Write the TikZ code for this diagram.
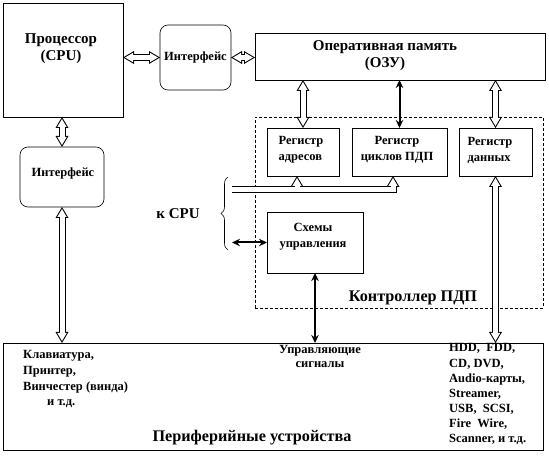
\documentclass[tikz,border=0pt]{standalone}
\usepackage{fontspec}
\setmainfont{Liberation Serif}
\usetikzlibrary{arrows.meta,decorations.pathreplacing,calc}
\tikzset{
  box/.style={draw=black, line width=0.6pt, inner sep=0pt, outer sep=0pt},
  rbox/.style={box, rounded corners=8pt},
  ctrlbox/.style={draw=black, line width=0.6pt, dash pattern=on 3pt off 2pt, inner sep=0pt, outer sep=0pt},
  big/.style={font=\fontsize{15}{17}\selectfont\bfseries, align=center, inner sep=0pt},
  bigger/.style={font=\fontsize{16.2}{18}\selectfont\bfseries, align=center, inner sep=0pt},
  small/.style={font=\fontsize{12.5}{16}\selectfont\bfseries, align=center, inner sep=0pt},
  sig/.style={font=\fontsize{12.5}{13.5}\selectfont\bfseries, align=center, inner sep=0pt},
  item/.style={font=\fontsize{12.5}{15}\selectfont\bfseries, anchor=base west, inner sep=0pt},
  houtTip/.tip={Triangle[length=11pt,width=13pt,line width=0pt]},
  hinTip/.tip={Triangle[length=8pt,width=9.4pt,line width=0pt]},
  holout/.style={line width=7pt, black, line join=miter},
  holin/.style={line width=5pt, white, line join=miter},
  blk/.style={line width=2pt, {Stealth[length=8pt,width=7.5pt]}-{Stealth[length=8pt,width=7.5pt]}},
}
\newcommand\hollowarrow[2]{%
  \draw[holout, houtTip-houtTip] #1 -- #2;
  \draw[holin, hinTip-hinTip, shorten >=2pt, shorten <=2pt] #1 -- #2;}
\begin{document}
\begin{tikzpicture}[x=1pt,y=-1pt]
\useasboundingbox (0,0) rectangle (549,462);
% boxes
\node[box, minimum width=120pt, minimum height=114pt] (cpu) at (63,60) {};
\node[big] (cpuT) at (61,48.5) {Процессор\\(CPU)};
\node[rbox, minimum width=71pt, minimum height=65pt] (if1) at (195.5,57.5) {};
\node[small] (if1T) at (195.5,57) {Интерфейс};
\node[box, minimum width=290pt, minimum height=47pt] (ram) at (400,56.5) {};
\node[big] (ramT) at (385,56) {Оперативная память\\(ОЗУ)};
\node[ctrlbox, minimum width=288pt, minimum height=191pt] (ctrl) at (399,212.5) {};
\node[box, minimum width=72pt, minimum height=48pt] (ra) at (303,152) {};
\node[small, align=left] (raT) at (301,150) {Регистр\\адресов};
\node[box, minimum width=95pt, minimum height=48pt] (rc) at (399.5,152) {};
\node[small] (rcT) at (397,150) {Регистр\\циклов ПДП};
\node[box, minimum width=73pt, minimum height=48pt] (rd) at (495.5,152) {};
\node[small, align=left] (rdT) at (490,150) {Регистр\\данных};
\node[box, minimum width=96pt, minimum height=61pt] (su) at (315,242.5) {};
\node[small] (suT) at (313,236.5) {Схемы\\управления};
\node[rbox, minimum width=84pt, minimum height=60pt] (if2) at (62,177) {};
\node[small] (if2T) at (63,173) {Интерфейс};
\node[box, minimum width=540pt, minimum height=107pt] (per) at (273,396.5) {};
% labels
\node[bigger] (ctrlT) at (413,298) {Контроллер ПДП};
\node[bigger] (perT) at (252,438) {Периферийные устройства};
\node[big] (kcpu) at (178,214) {к CPU};
\node[sig] (sigT) at (320,356.5) {Управляющие\\сигналы};
\node[item] (l1) at (23,359) {Клавиатура,};
\node[item] (l2) at (23,374.5) {Принтер,};
\node[item] (l3) at (23,390) {Винчестер (винда)};
\node[item] (l4) at (47,405) {и т.д.};
\node[item] (r1) at (449,352) {HDD,\ \ FDD,};
\node[item] (r2) at (449,367) {CD,\ DVD,};
\node[item] (r3) at (449,382) {Audio-карты,};
\node[item] (r4) at (449,397) {Streamer,};
\node[item] (r5) at (449,412) {USB,\ \ SCSI,};
\node[item] (r6) at (449,427) {Fire\ \ Wire,};
\node[item] (r7) at (449,442) {Scanner, и т.д.};
% brace
\coordinate (brB) at (228,250);
\coordinate (brT) at (228,177);
\draw[decorate, decoration={brace, amplitude=7pt}, line width=0.6pt] (brB) -- (brT);
% hollow arrows
\hollowarrow{(cpu.east |- if1.west)}{(if1.west)}
\hollowarrow{(if1.east)}{(if1.east -| ram.west)}
\hollowarrow{(if2.north |- cpu.south)}{(if2.north)}
\hollowarrow{(if2.south)}{(if2.south |- per.north)}
\hollowarrow{(ra.north |- ram.south)}{(ra.north)}
\hollowarrow{(rd.north |- ram.south)}{(rd.north)}
\hollowarrow{(rd.south)}{(rd.south |- per.north)}
% bus
\coordinate (busL) at (232,189.5);
\coordinate (busR) at ($(rc.south)+(-6.5,0)$);
\coordinate (busC) at (busR |- busL);
\coordinate (busA) at ($(ra.south)+(-6,0)$);
\coordinate (busB) at (busA |- busL);
\draw[holout, -houtTip] (busL) -- (busC) -- (busR);
\draw[holout, -houtTip] (busB) -- (busA);
\draw[holin, -hinTip, shorten >=2pt] (busL) -- (busC) -- (busR);
\draw[holin, -hinTip, shorten >=2pt] (busB) -- (busA);
% black arrows
\draw[blk] (rc.north |- ram.south) -- (rc.north);
\draw[blk] (su.south) -- (su.south |- per.north);
\coordinate (kc) at (232,242.5);
\draw[blk] (kc) -- (su.west);
\end{tikzpicture}
\end{document}
